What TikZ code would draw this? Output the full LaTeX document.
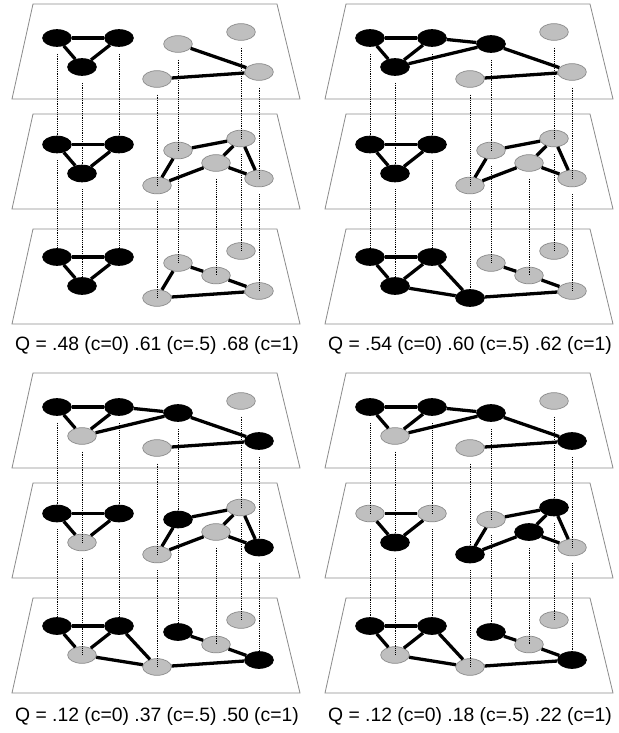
\documentclass[tikz,border=0pt]{standalone}
\usepackage{fontspec}
\setmainfont{Liberation Sans}
\usetikzlibrary{shapes.geometric}

\tikzset{
	plane/.style={draw=black!45, line width=0.7pt, fill=white},
	blk/.style={ellipse, draw=black, fill=black, line width=0.8pt, minimum width=0.86cm, minimum height=0.5cm, inner sep=0pt},
	gry/.style={ellipse, draw=black!45, fill=black!25, line width=0.6pt, minimum width=0.86cm, minimum height=0.5cm, inner sep=0pt},
	tie/.style={line width=2.8pt},
	link/.style={line width=0.7pt, dash pattern=on 0.7pt off 0.9pt},
	score/.style={font=\fontsize{16.5}{20}\selectfont},
	spot a/.style={at={(57,38)}},
	spot b/.style={at={(119,38)}},
	spot c/.style={at={(82,67)}},
	spot d/.style={at={(178,44)}},
	spot e/.style={at={(241,32)}},
	spot f/.style={at={(157,79)}},
	spot g/.style={at={(259,72)}},
	spot h/.style={at={(216,56.5)}}
}

\newcommand{\netlayer}[4]{
	\draw[plane] (33,#2) -- (277,#2) -- (300,#2+95) -- (12,#2+95) -- cycle;
	\begin{scope}[shift={(0,#3)}]
		\foreach \n/\s in {#4} \node[\s, spot \n] (#1\n) {};
	\end{scope}
}
\newcommand{\ties}[2]{\foreach \ea/\eb in {#2} \draw[tie] (#1\ea) -- (#1\eb);}

\begin{document}
\begin{tikzpicture}[x=0.03cm, y=-0.03cm]
	\useasboundingbox (0,0) rectangle (618,733);

	\begin{scope}
		\netlayer{tl1}{4}{0}{a/blk,b/blk,c/blk,d/gry,e/gry,f/gry,g/gry}
		\ties{tl1}{a/b,a/c,b/c,d/g,f/g}
		\netlayer{tl2}{114}{106.5}{a/blk,b/blk,c/blk,d/gry,e/gry,f/gry,g/gry,h/gry}
		\ties{tl2}{a/b,a/c,b/c,f/d,d/e,e/h,e/g,h/f,h/g}
		\netlayer{tl3}{229}{219}{a/blk,b/blk,c/blk,d/gry,e/gry,f/gry,g/gry,h/gry}
		\ties{tl3}{a/b,a/c,b/c,f/d,d/h,h/g,f/g}
		\node[score] (tlq) at (157,345) {Q = .48 (c=0) .61 (c=.5) .68 (c=1)};
	\end{scope}

	\begin{scope}[shift={(313,0)}]
		\netlayer{tr1}{4}{0}{a/blk,b/blk,c/blk,d/blk,e/gry,f/gry,g/gry}
		\ties{tr1}{a/b,a/c,b/c,b/d,c/d,d/g,f/g}
		\netlayer{tr2}{114}{106.5}{a/blk,b/blk,c/blk,d/gry,e/gry,f/gry,g/gry,h/gry}
		\ties{tr2}{a/b,a/c,b/c,f/d,d/e,e/h,e/g,h/f,h/g}
		\netlayer{tr3}{229}{219}{a/blk,b/blk,c/blk,d/gry,e/gry,f/blk,g/gry,h/gry}
		\ties{tr3}{a/b,a/c,b/c,b/f,c/f,f/g,d/h,h/g}
		\node[score] (trq) at (157,345) {Q = .54 (c=0) .60 (c=.5) .62 (c=1)};
	\end{scope}

	\begin{scope}[shift={(0,369)}]
		\netlayer{bl1}{4}{0}{a/blk,b/blk,c/gry,d/blk,e/gry,f/gry,g/blk}
		\ties{bl1}{a/b,a/c,b/c,b/d,c/d,d/g,f/g}
		\netlayer{bl2}{114}{106.5}{a/blk,b/blk,c/gry,d/blk,e/gry,f/gry,g/blk,h/gry}
		\ties{bl2}{a/b,a/c,b/c,f/d,d/e,e/h,e/g,h/f,h/g}
		\netlayer{bl3}{229}{219}{a/blk,b/blk,c/gry,d/blk,e/gry,f/gry,g/blk,h/gry}
		\ties{bl3}{a/b,a/c,b/c,b/f,c/f,f/g,d/h,h/g}
		\node[score] (blq) at (157,347) {Q = .12 (c=0) .37 (c=.5) .50 (c=1)};
	\end{scope}

	\begin{scope}[shift={(313,369)}]
		\netlayer{br1}{4}{0}{a/blk,b/blk,c/gry,d/blk,e/gry,f/gry,g/blk}
		\ties{br1}{a/b,a/c,b/c,b/d,c/d,d/g,f/g}
		\netlayer{br2}{114}{106.5}{a/gry,b/gry,c/blk,d/gry,e/blk,f/blk,g/gry,h/blk}
		\ties{br2}{a/b,a/c,b/c,f/d,d/e,e/h,e/g,h/f,h/g}
		\netlayer{br3}{229}{219}{a/blk,b/blk,c/gry,d/blk,e/gry,f/gry,g/blk,h/gry}
		\ties{br3}{a/b,a/c,b/c,b/f,c/f,f/g,d/h,h/g}
		\node[score] (brq) at (157,347) {Q = .12 (c=0) .18 (c=.5) .22 (c=1)};
	\end{scope}

	\foreach \p in {tl,tr,bl,br} {
		\foreach \n in {a,b,c,d,e,f,g} \draw[link] ([yshift=-6pt]\p1\n.south) -- (\p2\n.center);
		\foreach \n in {a,b,c,d,e,f,g,h} \draw[link] ([yshift=-6pt]\p2\n.south) -- (\p3\n.center);
	}
\end{tikzpicture}
\end{document}
